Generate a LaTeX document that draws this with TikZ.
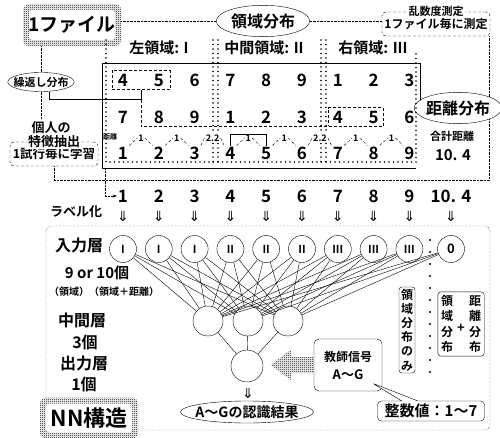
\documentclass[tikz,border=0pt]{standalone}
\usepackage{fontspec}
\setmainfont{Noto Sans CJK JP}[BoldFont={* Bold}]
\newfontfamily\arrowfont{DejaVu Sans}
\usetikzlibrary{patterns,shapes.geometric,shapes.callouts,fit,arrows.meta}

\newcommand{\fsz}[1]{\fontsize{#1}{#1}\selectfont\bfseries}

\pgfdeclarepatternformonly{finechk}{\pgfqpoint{0pt}{0pt}}{\pgfqpoint{2pt}{2pt}}{\pgfqpoint{2pt}{2pt}}{%
  \pgfpathrectangle{\pgfqpoint{0pt}{0pt}}{\pgfqpoint{1pt}{1pt}}%
  \pgfpathrectangle{\pgfqpoint{1pt}{1pt}}{\pgfqpoint{1pt}{1pt}}%
  \pgfusepath{fill}}

\tikzset{
  chkbox/.style={rounded corners=6pt, pattern=finechk, preaction={fill=white},
    path picture={\fill[white, rounded corners=3pt]
      ([shift={(6pt,-6pt)}]path picture bounding box.north west) rectangle
      ([shift={(-6pt,6pt)}]path picture bounding box.south east);}},
  oval/.style={draw, ellipse, inner sep=0pt},
  dbox/.style={draw, densely dashed, rounded corners=4pt, inner sep=1pt},
  num/.style={inner sep=1pt, font=\fsz{17}},
  neuron/.style={draw, circle, inner sep=0pt},
  darr/.style={inner sep=0pt, font=\arrowfont\fontsize{14}{14}\selectfont},
  dots/.style={line width=1.6pt, dash pattern=on 0pt off 4.5pt, line cap=round},
}

\begin{document}
\begin{tikzpicture}[x=1pt, y=-1pt]
  \useasboundingbox (0,0) rectangle (500,438);

  % Top labels
  \node[chkbox, minimum width=98pt, minimum height=42pt, font=\fsz{19}] (file) at (72,25) {1ファイル};
  \node[oval, inner xsep=1pt, inner ysep=3.5pt, font=\fsz{16}] (area) at (263,21) {領域分布};
  \node[dbox, minimum width=108pt, minimum height=24pt, font=\fsz{12}] (rand) at (436,24) {1ファイル毎に測定};
  \node[fill=white, inner sep=1pt, font=\fsz{11}] (randt) at (rand.north) {乱数度測定};
  \node[oval, inner xsep=-4pt, inner ysep=1.5pt, font=\fsz{11}] (rep) at (41,82) {繰返し分布};
  \node[oval, inner xsep=-1pt, inner ysep=3.5pt, font=\fsz{16}] (dist) at (458,108) {距離分布};
  \node[font=\fsz{11}] (sum) at (452,136) {合計距離};
  \node[font=\fsz{15}] (sumv) at (453,155) {10. 4};
  \node[font=\fsz{13}] (pers) at (51,128) {個人の};
  \node[dbox, minimum width=88pt, minimum height=24pt, font=\fsz{12.5}] (feat) at (54,154) {1試行毎に学習};
  \node[fill=white, inner sep=1pt, font=\fsz{13}] (featt) at (feat.north) {特徴抽出};

  \draw[densely dotted] (area.west -| file.east) -- (area.west);
  \draw[densely dotted] (area.east) -- (area.east -| rand.west);
  \draw[densely dotted] (rand.south east -| dist.north east) -- (dist.north east);
  \draw[densely dotted] (rep.north |- file.south) -- (rep.north);
  \draw[densely dotted] (rep.south) -- (rep.south |- pers.north);
  \draw[densely dotted] (feat.south) -- ++(0,14) -| (dist.south east);

  % Regions
  \node[font=\fsz{15}] (hl) at (159,48) {左領域: I};
  \node[font=\fsz{15}] (hm) at (264,48) {中間領域: II};
  \node[font=\fsz{15}] (hr) at (373,48) {右領域: III};

  \foreach \r/\y/\vals in {1/80/{4,5,6,7,8,9,1,2,3}, 2/117/{7,8,9,1,2,3,4,5,6}, 3/153/{1,2,3,4,5,6,7,8,9}}
    \foreach \v [count=\i] in \vals
      \node[num] (g\r\i) at ({123+35.8*(\i-1)},\y) {\v};

  \coordinate (ftl) at (102,63);
  \coordinate (ftr) at (420,63);
  \coordinate (fre) at (420,100);
  \coordinate (fbl) at (102,168);
  \coordinate (fbr) at (416,168);
  \draw (fre) -- (ftr) -- (ftl) -- (fbl) -- (fbr);
  \draw[dots] (106,40) -- (106,162) -- (416,162) -- (416,50);
  \foreach \x in {213,218,321,326}
    \draw[dots] (\x,40) -- (\x,162);

  % Distances
  \node[font=\fsz{7}, inner sep=0pt] (dlab) at (110,137) {距離};
  \foreach \dv [count=\i, evaluate=\i as \j using int(\i+1)] in {1,1,2.2,1,1,2.2,1,1} {
    \node[fill=white, inner sep=1pt, font=\fsz{9}] (d\i) at ({141+35.8*(\i-1)},138) {\dv};
    \draw[densely dashed] (g3\i.north east) -- (d\i.west) (d\i.east) -- (g3\j.north west);
  }
  \draw (g34.north) -- ++(0,-11) -| (g35.north);

  % Repeats
  \node[draw, densely dashed, fit=(g11)(g12), inner xsep=5pt, inner ysep=2pt] (rep1) {};
  \node[draw, densely dashed, fit=(g27)(g28), inner xsep=3pt, inner ysep=2pt] (rep2) {};
  \draw ([xshift=8pt]rep.south) -- ++(0,8) -| (rep1.south);
  \draw[densely dashed] (rep1.south) |- (rep2.south);

  % Labels
  \foreach \v [count=\i] in {1,...,9} {
    \node[num] (n\i) at ({123+35.8*(\i-1)},196) {\v};
    \node[darr] (a\i) at ({123+35.8*(\i-1)},216) {⇓};
  }
  \node[num] (n10) at (451,196) {10. 4};
  \node[darr] (a10) at (451,216) {⇓};
  \node[font=\fsz{13}] (lab) at (76,212) {ラベル化};
  \draw[densely dotted, -{Stealth[length=4pt]}] ([xshift=3pt]fbl) |- (n1.west);

  % Network
  \node[draw, densely dotted, rounded corners=5pt, minimum width=444pt, minimum height=204pt] (nnarea) at (268,328) {};
  \node[font=\fsz{16}] (inl) at (79,245) {入力層};
  \node[font=\fsz{15}] (incnt) at (97,273) {9 or 10個};
  \node[font=\fsz{10}] (inkind) at (104,292) {（領域）（領域＋距離）};
  \node[font=\fsz{16}] (hidl) at (82,320) {中間層};
  \node[font=\fsz{16}] (hidcnt) at (85,342) {3個};
  \node[font=\fsz{16}] (outl) at (84,363) {出力層};
  \node[font=\fsz{16}] (outcnt) at (84,384) {1個};

  \foreach \t [count=\i] in {I,I,I,II,II,II,III,III,III}
    \node[neuron, minimum size=27pt, font=\fsz{11}] (i\i) at ({123+35.8*(\i-1)},249) {\t};
  \node[neuron, minimum size=27pt, font=\fsz{13}] (i10) at (451,249) {0};
  \node[neuron, minimum size=30pt] (h1) at (208,321) {};
  \node[neuron, minimum size=30pt] (h2) at (248,321) {};
  \node[neuron, minimum size=30pt] (h3) at (288,321) {};
  \node[neuron, minimum size=32pt] (o) at (247,366) {};
  \foreach \i in {1,...,10}
    \foreach \j in {1,2,3}
      \draw (i\i) -- (h\j);
  \foreach \j in {1,2,3}
    \draw (h\j) -- (o);
  \node[darr] (oa) at (248,393) {⇓};
  \node[oval, minimum width=133pt, minimum height=22pt, inner xsep=-10pt, font=\fsz{14}] (res) at (247,412) {A〜Gの認識結果};

  % Teacher
  \node[draw, rounded corners=5pt, minimum width=68pt, minimum height=52pt, align=center, font=\fsz{12}] (tch) at (348,365) {教師信号\\[6pt]{\fsz{13}A〜G}};
  \fill[pattern=finechk] ([shift={(0,-8)}]tch.west) -- ++(-23,0) -- ++(0,-7) -- ++(-20,15) -- ++(20,15) -- ++(0,-7) -- ++(23,0) -- cycle;
  \node[draw, fill=white, rectangle callout, rounded corners=4pt, callout absolute pointer={(372,383)}, callout pointer width=16pt, minimum width=107pt, minimum height=20pt, inner sep=1pt, font=\fsz{15}] (intv) at (431,411) {整数値：1〜7};

  % Inputs used
  \node[draw, rounded corners=3pt, inner sep=2pt, align=center, font=\fontsize{12}{14.2}\selectfont\bfseries] (only) at (407,330) {領\\域\\分\\布\\の\\み};
  \node[align=center, inner sep=0pt, font=\fontsize{12}{15.5}\selectfont\bfseries] (vl) at (447,324) {領\\域\\分\\布};
  \node[align=center, inner sep=0pt, font=\fontsize{12}{15.5}\selectfont\bfseries] (vr) at (475,324) {距\\離\\分\\布};
  \node[font=\fsz{13}] (vplus) at (461,328) {+};
  \node[draw, rounded corners=3pt, fit=(vl)(vr), inner sep=3pt] (both) {};
  \draw[line width=2.2pt, dash pattern=on 0pt off 12pt, line cap=round] (430,240) -- (430,374);

  \node[chkbox, minimum width=98pt, minimum height=41pt, font=\fsz{22}] (nn) at (89,418) {NN構造};
\end{tikzpicture}
\end{document}
